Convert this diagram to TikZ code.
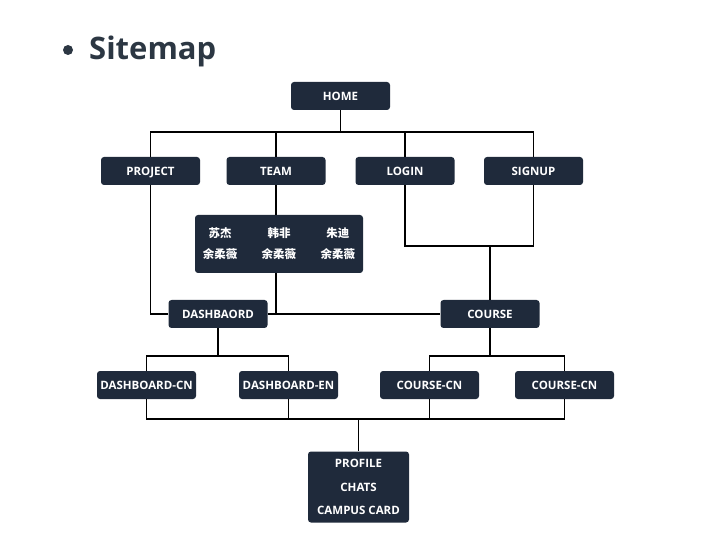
\documentclass[tikz,border=0pt]{standalone}
\usepackage{fontspec}
\setmainfont{Open Sans}
\newfontfamily\cjk{Noto Sans CJK SC}
\usepackage{xcolor}
\definecolor{boxnavy}{HTML}{1F2A3B}
\definecolor{titlegray}{HTML}{2C3743}

\tikzset{
  page/.style={rounded corners=3pt, fill=boxnavy, text=white, font=\bfseries\fontsize{11.5}{13}\selectfont,
    minimum width=99, minimum height=28, inner sep=2pt, text height=8.3pt, text depth=0pt},
  link/.style={black, line width=1.8pt}
}

\begin{document}
\begin{tikzpicture}[x=1pt, y=-1pt]
  \useasboundingbox (0,0) rectangle (702,548);

  % title
  \fill[titlegray] (68,50) circle (5);
  \node[anchor=west, text=titlegray, font=\bfseries\fontsize{31}{34}\selectfont, inner sep=0pt] (title) at (89,51) {Sitemap};

  % pages
  \node[page] (home) at (340.5,96) {HOME};
  \node[page] (project) at (150.5,171) {PROJECT};
  \node[page] (team) at (276,171) {TEAM};
  \node[page] (login) at (405,171) {LOGIN};
  \node[page] (signup) at (533.5,171) {SIGNUP};
  \node[page, minimum width=168, minimum height=58, inner sep=0pt, text height={}, text depth={},
        font=\cjk\bfseries\fontsize{11.5}{13}\selectfont] (names) at (279,244)
    {\setlength{\tabcolsep}{12.2pt}\renewcommand{\arraystretch}{1.55}%
     \begin{tabular}{@{}ccc@{}}苏杰 & 韩非 & 朱迪\\ 余柔薇 & 余柔薇 & 余柔薇\end{tabular}};
  \node[page] (dashbaord) at (218,314) {DASHBAORD};
  \node[page] (course) at (490,314) {COURSE};
  \node[page] (dcn) at (146.5,385) {DASHBOARD-CN};
  \node[page] (den) at (288.5,385) {DASHBOARD-EN};
  \node[page] (ccn) at (429.5,385) {COURSE-CN};
  \node[page] (ccntwo) at (564.5,385) {COURSE-CN};
  \node[page, minimum width=101, minimum height=71, align=center, text height={}, text depth={}] (extra) at (358.5,487)
    {PROFILE\\[10.5pt]CHATS\\[10.5pt]CAMPUS CARD};

  % connectors
  \coordinate (hb) at (home |- 0,132);
  \draw[link] (home) -- (hb);
  \draw[link] (project.north) |- (hb) -| (signup.north);
  \draw[link] (team.north) -- (team.north |- hb);
  \draw[link] (login.north) -- (login.north |- hb);

  \draw[link] (team.south) -- (team |- names.north);
  \draw[link] (team |- names.south) -- (team |- dashbaord.east);
  \draw[link] (project.south) |- (dashbaord.west);
  \draw[link] (dashbaord.east) -- (course.west);

  \coordinate (lb) at (course |- 0,246);
  \draw[link] (login.south) |- (lb) -| (signup.south);
  \draw[link] (lb) -- (course.north);

  \coordinate (db) at (dashbaord |- 0,356);
  \draw[link] (dashbaord.south) -- (db);
  \draw[link] (dcn.north) |- (db) -| (den.north);
  \coordinate (cb) at (course |- 0,356);
  \draw[link] (course.south) -- (cb);
  \draw[link] (ccn.north) |- (cb) -| (ccntwo.north);

  \coordinate (bb) at (extra |- 0,419);
  \draw[link] (dcn.south) |- (bb) -| (ccntwo.south);
  \draw[link] (den.south) -- (den.south |- bb);
  \draw[link] (ccn.south) -- (ccn.south |- bb);
  \draw[link] (bb) -- (extra.north);
\end{tikzpicture}
\end{document}
